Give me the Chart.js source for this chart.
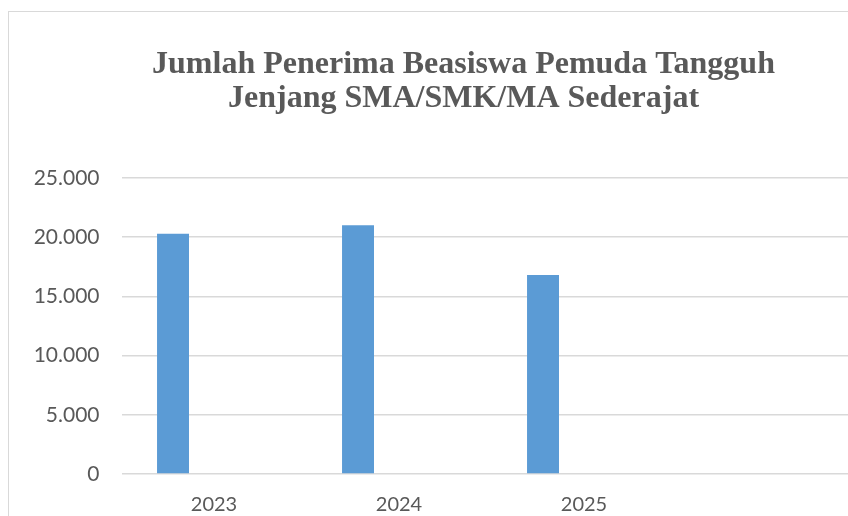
<!DOCTYPE html>
<html>
<head>
<meta charset="utf-8">
<script src="https://cdn.jsdelivr.net/npm/chart.js@4/dist/chart.umd.min.js"></script>
<style>
  html, body { margin: 0; padding: 0; background: #fff; overflow: hidden; }
  body { width: 848px; height: 516px; position: relative; }
  #frame {
    position: absolute; left: 8px; top: 11px; width: 1000px; height: 700px;
    border: 1px solid #d9d9d9; box-sizing: border-box;
  }
  #wrap { position: absolute; left: 0; top: 0; width: 927px; height: 516px; }
</style>
</head>
<body>
<div id="frame"></div>
<div id="wrap"><canvas id="chart" width="927" height="516"></canvas></div>
<script>
// data
const years = ["2023", "2024", "2025", ""];
const penerima = [20300, 21000, 16800, null];
const kosong = [null, null, null, null];
const yTicks = [0, 5000, 10000, 15000, 20000, 25000];

const grey = "#595959";

function titik(v) {
  return String(v).replace(/\B(?=(\d{3})+(?!\d))/g, ".");
}

new Chart(document.getElementById("chart"), {
  type: "bar",
  data: {
    labels: years,
    datasets: [
      { label: "Penerima", data: penerima, backgroundColor: "#5B9BD5" },
      { label: "", data: kosong, backgroundColor: "#ED7D31" },
    ],
  },
  options: {
    responsive: false,
    animation: false,
    datasets: { bar: { categoryPercentage: 0.886, barPercentage: 0.39 } },
    layout: { padding: 0 },
    plugins: {
      legend: { display: false },
      tooltip: { enabled: false },
      title: {
        display: true,
        text: ["Jumlah Penerima Beasiswa Pemuda Tangguh", "Jenjang SMA/SMK/MA Sederajat"],
        color: grey,
        font: { family: "'Liberation Serif', 'Times New Roman', serif", size: 32, weight: "bold", lineHeight: 1.0625 },
        padding: { top: 48, bottom: 62 },
      },
    },
    scales: {
      x: {
        grid: { display: false },
        border: { display: false },
        ticks: { color: grey, font: { family: "Lato, sans-serif", size: 20 }, padding: 11 },
        afterFit: (s) => { s.height = 42; },
      },
      y: {
        min: 0,
        max: 25000,
        afterBuildTicks: (s) => { s.ticks = yTicks.map((v) => ({ value: v })); },
        grid: { color: "#d9d9d9", lineWidth: 1.5, drawTicks: false },
        border: { display: false },
        ticks: {
          color: grey,
          font: { family: "Lato, sans-serif", size: 21 },
          padding: 22,
          callback: (v) => titik(v),
        },
        afterFit: (s) => { s.width = 121.5; },
      },
      // empty right-hand axis: only reserves the space right of the plot
      kanan: {
        position: "right",
        grid: { display: false },
        border: { display: false },
        ticks: { display: false },
        afterFit: (s) => { s.width = 65.5; },
      },
    },
  },
});
</script>
</body>
</html>
